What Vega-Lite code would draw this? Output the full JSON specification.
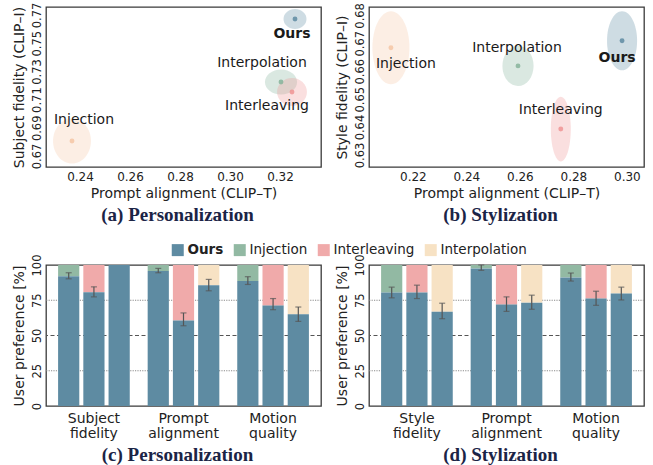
{
  "$schema": "https://vega.github.io/schema/vega-lite/v6.json",
  "padding": {"left": 11, "top": 1, "right": 5, "bottom": 5},
  "background": "white",
  "config": {
    "font": "DejaVu Sans",
    "view": {"stroke": "#3a3a3a", "strokeWidth": 1.3},
    "axis": {"domain": false, "ticks": false, "grid": false, "labelFont": "DejaVu Sans", "labelFontSize": 12, "labelColor": "#222", "titleFont": "DejaVu Sans", "titleFontSize": 14, "titleFontWeight": "normal", "titleColor": "#222", "labelPadding": 4, "titlePadding": 4, "labelOverlap": false},
    "axisY": {"labelAngle": -90, "labelAlign": "center", "labelBaseline": "alphabetic", "labelPadding": 6, "titlePadding": 5, "labelFontSize": 11.5, "labelOverlap": false},
    "title": {"font": "Liberation Serif", "fontSize": 19, "fontWeight": "bold", "color": "#1B2446", "orient": "bottom", "anchor": "middle", "frame": "group", "dx": -6, "offset": 6},
    "legend": {"labelFont": "DejaVu Sans", "labelFontSize": 13.5, "labelColor": "#222"}
  },
  "resolve": {"scale": {"color": "independent", "shape": "independent", "size": "independent"}},
  "bounds": "flush",
  "spacing": {"row": 98, "column": 48},
  "columns": 2,
  "concat": [
    {
      "width": 275, "height": 160,
      "title": "(a) Personalization",
      "data": {"values": [
        {"method": "Ours", "clipT": 0.3260, "clipI": 0.7672, "sdT": 0.0046, "sdI": 0.0071},
        {"method": "Interpolation", "clipT": 0.3204, "clipI": 0.7225, "sdT": 0.0064, "sdI": 0.0089},
        {"method": "Interleaving", "clipT": 0.3248, "clipI": 0.7154, "sdT": 0.0060, "sdI": 0.0099},
        {"method": "Injection", "clipT": 0.2368, "clipI": 0.6806, "sdT": 0.0076, "sdI": 0.0160}
      ]},
      "encoding": {
        "x": {"field": "clipT", "type": "quantitative", "scale": {"domain": [0.2264, 0.3364], "nice": false, "zero": false}, "axis": {"values": [0.24, 0.26, 0.28, 0.30, 0.32], "format": ".2f", "title": "Prompt alignment (CLIP–T)"}},
        "y": {"field": "clipI", "type": "quantitative", "scale": {"domain": [0.6622, 0.7757], "nice": false, "zero": false}, "axis": {"values": [0.67, 0.69, 0.71, 0.73, 0.75, 0.77], "format": ".2f", "title": "Subject fidelity (CLIP–I)"}}
      },
      "layer": [
        {"mark": {"type": "point", "filled": true, "opacity": 0.3, "strokeWidth": 0},
         "encoding": {
           "shape": {"field": "method", "type": "nominal", "legend": null, "scale": {"domain": ["Ours", "Injection", "Interleaving", "Interpolation"], "range": [
             "M1.15,0C1.15,0.552,0.635,1,0,1C-0.635,1,-1.15,0.552,-1.15,0C-1.15,-0.552,-0.635,-1,0,-1C0.635,-1,1.15,-0.552,1.15,0Z",
             "M0.84,0C0.84,0.552,0.464,1,0,1C-0.464,1,-0.84,0.552,-0.84,0C-0.84,-0.552,-0.464,-1,0,-1C0.464,-1,0.84,-0.552,0.84,0Z",
             "M1.07,0C1.07,0.552,0.591,1,0,1C-0.591,1,-1.07,0.552,-1.07,0C-1.07,-0.552,-0.591,-1,0,-1C0.591,-1,1.07,-0.552,1.07,0Z",
             "M1.28,0C1.28,0.552,0.707,1,0,1C-0.707,1,-1.28,0.552,-1.28,0C-1.28,-0.552,-0.707,-1,0,-1C0.707,-1,1.28,-0.552,1.28,0Z"]}},
           "size": {"field": "sdI", "type": "quantitative", "legend": null, "scale": {"type": "pow", "exponent": 2, "domain": [0, 0.01], "range": [0, 795]}},
           "color": {"field": "method", "type": "nominal", "legend": null, "scale": {"domain": ["Ours", "Injection", "Interleaving", "Interpolation"], "range": ["#5E8BA2", "#F5C6A5", "#EE9494", "#86B39A"]}}
         }},
        {"mark": {"type": "circle", "size": 24, "opacity": 0.85},
         "encoding": {"color": {"field": "method", "type": "nominal", "legend": null, "scale": {"domain": ["Ours", "Injection", "Interleaving", "Interpolation"], "range": ["#5E8BA2", "#F5C6A5", "#EE9494", "#86B39A"]}}}},
        {"transform": [{"filter": {"field": "method", "equal": "Ours"}}], "mark": {"type": "text", "fontSize": 14, "fontWeight": "bold", "color": "#1a1a1a", "dx": -3, "dy": 15}, "encoding": {"text": {"field": "method"}}},
        {"transform": [{"filter": {"field": "method", "equal": "Interpolation"}}], "mark": {"type": "text", "fontSize": 14, "color": "#1a1a1a", "dx": -19, "dy": -19}, "encoding": {"text": {"field": "method"}}},
        {"transform": [{"filter": {"field": "method", "equal": "Interleaving"}}], "mark": {"type": "text", "fontSize": 14, "color": "#1a1a1a", "dx": -25, "dy": 14}, "encoding": {"text": {"field": "method"}}},
        {"transform": [{"filter": {"field": "method", "equal": "Injection"}}], "mark": {"type": "text", "fontSize": 14, "color": "#1a1a1a", "dx": 12, "dy": -21}, "encoding": {"text": {"field": "method"}}}
      ]
    },
    {
      "width": 275, "height": 160,
      "title": "(b) Stylization",
      "data": {"values": [
        {"method": "Injection", "clipT": 0.2118, "clipI": 0.6684, "sdT": 0.0069, "sdI": 0.0131},
        {"method": "Interpolation", "clipT": 0.2593, "clipI": 0.6619, "sdT": 0.0058, "sdI": 0.0072},
        {"method": "Interleaving", "clipT": 0.2753, "clipI": 0.6393, "sdT": 0.0037, "sdI": 0.0116},
        {"method": "Ours", "clipT": 0.2982, "clipI": 0.6709, "sdT": 0.0056, "sdI": 0.0106}
      ]},
      "encoding": {
        "x": {"field": "clipT", "type": "quantitative", "scale": {"domain": [0.2036, 0.3064], "nice": false, "zero": false}, "axis": {"values": [0.22, 0.24, 0.26, 0.28, 0.30], "format": ".2f", "title": "Prompt alignment (CLIP–T)"}},
        "y": {"field": "clipI", "type": "quantitative", "scale": {"domain": [0.6257, 0.6830], "nice": false, "zero": false}, "axis": {"values": [0.63, 0.64, 0.65, 0.66, 0.67, 0.68], "format": ".2f", "title": "Style fidelity (CLIP–I)"}}
      },
      "layer": [
        {"mark": {"type": "point", "filled": true, "opacity": 0.3, "strokeWidth": 0},
         "encoding": {
           "shape": {"field": "method", "type": "nominal", "legend": null, "scale": {"domain": ["Ours", "Injection", "Interleaving", "Interpolation"], "range": [
             "M0.508,0C0.508,0.552,0.281,1,0,1C-0.281,1,-0.508,0.552,-0.508,0C-0.508,-0.552,-0.281,-1,0,-1C0.281,-1,0.508,-0.552,0.508,0Z",
             "M0.507,0C0.507,0.552,0.28,1,0,1C-0.28,1,-0.507,0.552,-0.507,0C-0.507,-0.552,-0.28,-1,0,-1C0.28,-1,0.507,-0.552,0.507,0Z",
             "M0.308,0C0.308,0.552,0.17,1,0,1C-0.17,1,-0.308,0.552,-0.308,0C-0.308,-0.552,-0.17,-1,0,-1C0.17,-1,0.308,-0.552,0.308,0Z",
             "M0.775,0C0.775,0.552,0.428,1,0,1C-0.428,1,-0.775,0.552,-0.775,0C-0.775,-0.552,-0.428,-1,0,-1C0.428,-1,0.775,-0.552,0.775,0Z"]}},
           "size": {"field": "sdI", "type": "quantitative", "legend": null, "scale": {"type": "pow", "exponent": 2, "domain": [0, 0.01], "range": [0, 3114]}},
           "color": {"field": "method", "type": "nominal", "legend": null, "scale": {"domain": ["Ours", "Injection", "Interleaving", "Interpolation"], "range": ["#5E8BA2", "#F5C6A5", "#EE9494", "#86B39A"]}}
         }},
        {"mark": {"type": "circle", "size": 24, "opacity": 0.85},
         "encoding": {"color": {"field": "method", "type": "nominal", "legend": null, "scale": {"domain": ["Ours", "Injection", "Interleaving", "Interpolation"], "range": ["#5E8BA2", "#F5C6A5", "#EE9494", "#86B39A"]}}}},
        {"transform": [{"filter": {"field": "method", "equal": "Ours"}}], "mark": {"type": "text", "fontSize": 14, "fontWeight": "bold", "color": "#1a1a1a", "dx": -5, "dy": 17}, "encoding": {"text": {"field": "method"}}},
        {"transform": [{"filter": {"field": "method", "equal": "Interpolation"}}], "mark": {"type": "text", "fontSize": 14, "color": "#1a1a1a", "dx": -1, "dy": -18}, "encoding": {"text": {"field": "method"}}},
        {"transform": [{"filter": {"field": "method", "equal": "Interleaving"}}], "mark": {"type": "text", "fontSize": 14, "color": "#1a1a1a", "dx": 0, "dy": -19}, "encoding": {"text": {"field": "method"}}},
        {"transform": [{"filter": {"field": "method", "equal": "Injection"}}], "mark": {"type": "text", "fontSize": 14, "color": "#1a1a1a", "dx": 15, "dy": 16}, "encoding": {"text": {"field": "method"}}}
      ]
    },
    {
      "width": 275, "height": 141,
      "title": "(c) Personalization",
      "data": {"values": [
        {"criterion": "Subject fidelity", "opponent": "Injection", "ours": 92.1, "lo": 90.2, "hi": 94.5},
        {"criterion": "Subject fidelity", "opponent": "Interleaving", "ours": 80.7, "lo": 77.4, "hi": 84.5},
        {"criterion": "Subject fidelity", "opponent": "Interpolation", "ours": 100},
        {"criterion": "Prompt alignment", "opponent": "Injection", "ours": 95.7, "lo": 94.5, "hi": 97.6},
        {"criterion": "Prompt alignment", "opponent": "Interleaving", "ours": 60.7, "lo": 56.9, "hi": 66.0},
        {"criterion": "Prompt alignment", "opponent": "Interpolation", "ours": 85.7, "lo": 81.7, "hi": 89.8},
        {"criterion": "Motion quality", "opponent": "Injection", "ours": 88.6, "lo": 86.2, "hi": 91.7},
        {"criterion": "Motion quality", "opponent": "Interleaving", "ours": 71.2, "lo": 68.3, "hi": 76.2},
        {"criterion": "Motion quality", "opponent": "Interpolation", "ours": 65.0, "lo": 60.0, "hi": 70.2}
      ]},
      "layer": [
        {"data": {"values": [{"level": 25}, {"level": 75}]}, "mark": {"type": "rule", "color": "#8a8a8a", "strokeDash": [1.2, 1.2], "strokeWidth": 1}, "encoding": {"y": {"field": "level", "type": "quantitative", "title": "User preference [%]", "scale": {"domain": [0, 100], "nice": false}, "axis": {"values": [0, 25, 50, 75, 100], "labelOverlap": false}}}},
        {"data": {"values": [{"level": 50}]}, "mark": {"type": "rule", "color": "#555", "strokeDash": [4, 2.5], "strokeWidth": 1}, "encoding": {"y": {"field": "level", "type": "quantitative", "title": "User preference [%]", "axis": {"values": [0, 25, 50, 75, 100], "labelOverlap": false}}}},
        {"mark": {"type": "bar"},
         "encoding": {
           "x": {"field": "criterion", "type": "nominal", "sort": ["Subject fidelity", "Prompt alignment", "Motion quality"], "scale": {"paddingInner": 0.2, "paddingOuter": 0.135}, "axis": {"title": null, "labelAngle": 0, "labelExpr": "split(datum.label, ' ')", "labelFontSize": 14, "labelLineHeight": 15, "labelPadding": 5}},
           "xOffset": {"field": "opponent", "type": "nominal", "sort": ["Injection", "Interleaving", "Interpolation"], "scale": {"paddingInner": 0.16, "paddingOuter": 0}},
           "y": {"field": "ours", "type": "quantitative", "title": "User preference [%]", "axis": {"values": [0, 25, 50, 75, 100], "labelOverlap": false}},
           "y2": {"datum": 100},
           "color": {"field": "opponent", "type": "nominal", "scale": {"domain": ["Ours", "Injection", "Interleaving", "Interpolation"], "range": ["#5E8BA2", "#92B9A3", "#F0AAAA", "#F7E2C4"]},
             "legend": {"orient": "none", "direction": "horizontal", "legendX": 125, "legendY": -22, "title": null, "symbolType": "square", "symbolSize": 144, "symbolStrokeWidth": 0, "symbolOpacity": 1, "columnPadding": 9, "labelOffset": 3, "labelFontWeight": {"expr": "datum.label === 'Ours' ? 'bold' : 'normal'"}}}
         }},
        {"mark": {"type": "bar"},
         "encoding": {
           "x": {"field": "criterion", "type": "nominal", "sort": ["Subject fidelity", "Prompt alignment", "Motion quality"]},
           "xOffset": {"field": "opponent", "type": "nominal", "sort": ["Injection", "Interleaving", "Interpolation"]},
           "y": {"field": "ours", "type": "quantitative", "title": "User preference [%]", "axis": {"values": [0, 25, 50, 75, 100], "labelOverlap": false}},
           "color": {"datum": "Ours"}
         }},
        {"mark": {"type": "rule", "color": "#555", "strokeWidth": 1.2},
         "encoding": {
           "x": {"field": "criterion", "type": "nominal", "sort": ["Subject fidelity", "Prompt alignment", "Motion quality"]},
           "xOffset": {"field": "opponent", "type": "nominal", "sort": ["Injection", "Interleaving", "Interpolation"]},
           "y": {"field": "lo", "type": "quantitative", "title": "User preference [%]", "axis": {"values": [0, 25, 50, 75, 100], "labelOverlap": false}},
           "y2": {"field": "hi"}
         }},
        {"mark": {"type": "tick", "color": "#555", "size": 6, "thickness": 1.2},
         "encoding": {
           "x": {"field": "criterion", "type": "nominal", "sort": ["Subject fidelity", "Prompt alignment", "Motion quality"]},
           "xOffset": {"field": "opponent", "type": "nominal", "sort": ["Injection", "Interleaving", "Interpolation"]},
           "y": {"field": "lo", "type": "quantitative", "title": "User preference [%]", "axis": {"values": [0, 25, 50, 75, 100], "labelOverlap": false}}
         }},
        {"mark": {"type": "tick", "color": "#555", "size": 6, "thickness": 1.2},
         "encoding": {
           "x": {"field": "criterion", "type": "nominal", "sort": ["Subject fidelity", "Prompt alignment", "Motion quality"]},
           "xOffset": {"field": "opponent", "type": "nominal", "sort": ["Injection", "Interleaving", "Interpolation"]},
           "y": {"field": "hi", "type": "quantitative", "title": "User preference [%]", "axis": {"values": [0, 25, 50, 75, 100], "labelOverlap": false}}
         }}
      ]
    },
    {
      "width": 275, "height": 141,
      "title": "(d) Stylization",
      "data": {"values": [
        {"criterion": "Style fidelity", "opponent": "Injection", "ours": 80.5, "lo": 76.7, "hi": 84.3},
        {"criterion": "Style fidelity", "opponent": "Interleaving", "ours": 80.5, "lo": 76.2, "hi": 85.7},
        {"criterion": "Style fidelity", "opponent": "Interpolation", "ours": 66.9, "lo": 61.9, "hi": 72.9},
        {"criterion": "Prompt alignment", "opponent": "Injection", "ours": 97.6, "lo": 96.2, "hi": 100},
        {"criterion": "Prompt alignment", "opponent": "Interleaving", "ours": 71.9, "lo": 67.1, "hi": 77.4},
        {"criterion": "Prompt alignment", "opponent": "Interpolation", "ours": 73.3, "lo": 68.6, "hi": 78.6},
        {"criterion": "Motion quality", "opponent": "Injection", "ours": 91.2, "lo": 88.6, "hi": 94.3},
        {"criterion": "Motion quality", "opponent": "Interleaving", "ours": 76.2, "lo": 71.4, "hi": 81.4},
        {"criterion": "Motion quality", "opponent": "Interpolation", "ours": 79.8, "lo": 75.2, "hi": 84.3}
      ]},
      "layer": [
        {"data": {"values": [{"level": 25}, {"level": 75}]}, "mark": {"type": "rule", "color": "#8a8a8a", "strokeDash": [1.2, 1.2], "strokeWidth": 1}, "encoding": {"y": {"field": "level", "type": "quantitative", "title": "User preference [%]", "scale": {"domain": [0, 100], "nice": false}, "axis": {"values": [0, 25, 50, 75, 100], "labelOverlap": false}}}},
        {"data": {"values": [{"level": 50}]}, "mark": {"type": "rule", "color": "#555", "strokeDash": [4, 2.5], "strokeWidth": 1}, "encoding": {"y": {"field": "level", "type": "quantitative", "title": "User preference [%]", "axis": {"values": [0, 25, 50, 75, 100], "labelOverlap": false}}}},
        {"mark": {"type": "bar"},
         "encoding": {
           "x": {"field": "criterion", "type": "nominal", "sort": ["Style fidelity", "Prompt alignment", "Motion quality"], "scale": {"paddingInner": 0.2, "paddingOuter": 0.135}, "axis": {"title": null, "labelAngle": 0, "labelExpr": "split(datum.label, ' ')", "labelFontSize": 14, "labelLineHeight": 15, "labelPadding": 5}},
           "xOffset": {"field": "opponent", "type": "nominal", "sort": ["Injection", "Interleaving", "Interpolation"], "scale": {"paddingInner": 0.16, "paddingOuter": 0}},
           "y": {"field": "ours", "type": "quantitative", "title": "User preference [%]", "axis": {"values": [0, 25, 50, 75, 100], "labelOverlap": false}},
           "y2": {"datum": 100},
           "color": {"field": "opponent", "type": "nominal", "scale": {"domain": ["Ours", "Injection", "Interleaving", "Interpolation"], "range": ["#5E8BA2", "#92B9A3", "#F0AAAA", "#F7E2C4"]}, "legend": null}
         }},
        {"mark": {"type": "bar"},
         "encoding": {
           "x": {"field": "criterion", "type": "nominal", "sort": ["Style fidelity", "Prompt alignment", "Motion quality"]},
           "xOffset": {"field": "opponent", "type": "nominal", "sort": ["Injection", "Interleaving", "Interpolation"]},
           "y": {"field": "ours", "type": "quantitative", "title": "User preference [%]", "axis": {"values": [0, 25, 50, 75, 100], "labelOverlap": false}},
           "color": {"datum": "Ours", "legend": null}
         }},
        {"mark": {"type": "rule", "color": "#555", "strokeWidth": 1.2},
         "encoding": {
           "x": {"field": "criterion", "type": "nominal", "sort": ["Style fidelity", "Prompt alignment", "Motion quality"]},
           "xOffset": {"field": "opponent", "type": "nominal", "sort": ["Injection", "Interleaving", "Interpolation"]},
           "y": {"field": "lo", "type": "quantitative", "title": "User preference [%]", "axis": {"values": [0, 25, 50, 75, 100], "labelOverlap": false}},
           "y2": {"field": "hi"}
         }},
        {"mark": {"type": "tick", "color": "#555", "size": 6, "thickness": 1.2},
         "encoding": {
           "x": {"field": "criterion", "type": "nominal", "sort": ["Style fidelity", "Prompt alignment", "Motion quality"]},
           "xOffset": {"field": "opponent", "type": "nominal", "sort": ["Injection", "Interleaving", "Interpolation"]},
           "y": {"field": "lo", "type": "quantitative", "title": "User preference [%]", "axis": {"values": [0, 25, 50, 75, 100], "labelOverlap": false}}
         }},
        {"mark": {"type": "tick", "color": "#555", "size": 6, "thickness": 1.2},
         "encoding": {
           "x": {"field": "criterion", "type": "nominal", "sort": ["Style fidelity", "Prompt alignment", "Motion quality"]},
           "xOffset": {"field": "opponent", "type": "nominal", "sort": ["Injection", "Interleaving", "Interpolation"]},
           "y": {"field": "hi", "type": "quantitative", "title": "User preference [%]", "axis": {"values": [0, 25, 50, 75, 100], "labelOverlap": false}}
         }}
      ]
    }
  ]
}
